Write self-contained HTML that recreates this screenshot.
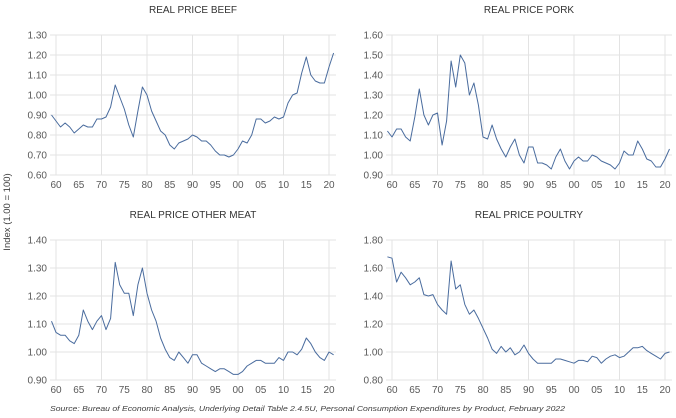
<!DOCTYPE html>
<html><head><meta charset="utf-8"><style>
body{margin:0;background:#fff;width:676px;height:418px;overflow:hidden;font-family:"Liberation Sans",sans-serif}
svg{display:block}
</style></head><body>
<svg id="c" width="676" height="418">
<text transform="translate(10,212) rotate(-90)" text-anchor="middle" font-size="9.5" fill="#404040">Index (1.00 = 100)</text>
<text x="50" y="411" font-size="7.6" font-style="italic" fill="#404040" textLength="515" lengthAdjust="spacingAndGlyphs">Source: Bureau of Economic Analysis, Underlying Detail Table 2.4.5U, Personal Consumption Expenditures by Product, February 2022</text>
</svg>
<script>
const years = [];for(let y=1959;y<=2021;y++)years.push(y);
const xTickLabels = ["60","65","70","75","80","85","90","95","00","05","10","15","20"];
const beef = [0.90,0.87,0.84,0.86,0.84,0.81,0.83,0.85,0.84,0.84,0.88,0.88,0.89,0.94,1.05,0.99,0.93,0.85,0.79,0.92,1.04,1.00,0.92,0.87,0.82,0.80,0.75,0.73,0.76,0.77,0.78,0.80,0.79,0.77,0.77,0.75,0.72,0.70,0.70,0.69,0.70,0.73,0.77,0.76,0.80,0.88,0.88,0.86,0.87,0.89,0.88,0.89,0.96,1.00,1.01,1.11,1.19,1.10,1.07,1.06,1.06,1.14,1.21];
const pork = [1.12,1.09,1.13,1.13,1.09,1.07,1.19,1.33,1.20,1.15,1.20,1.21,1.05,1.17,1.47,1.34,1.50,1.46,1.30,1.36,1.25,1.09,1.08,1.15,1.08,1.03,0.99,1.04,1.08,1.00,0.96,1.04,1.04,0.96,0.96,0.95,0.93,0.99,1.03,0.97,0.93,0.97,0.99,0.97,0.97,1.00,0.99,0.97,0.96,0.95,0.93,0.96,1.02,1.00,1.00,1.07,1.03,0.98,0.97,0.94,0.94,0.98,1.03];
const otherMeat = [1.11,1.07,1.06,1.06,1.04,1.03,1.06,1.15,1.11,1.08,1.11,1.13,1.08,1.12,1.32,1.24,1.21,1.21,1.13,1.24,1.30,1.21,1.15,1.11,1.05,1.01,0.98,0.97,1.00,0.98,0.96,0.99,0.99,0.96,0.95,0.94,0.93,0.94,0.94,0.93,0.92,0.92,0.93,0.95,0.96,0.97,0.97,0.96,0.96,0.96,0.98,0.97,1.00,1.00,0.99,1.01,1.05,1.03,1.00,0.98,0.97,1.00,0.99];
const poultry = [1.68,1.67,1.50,1.57,1.53,1.48,1.50,1.53,1.41,1.40,1.41,1.34,1.30,1.27,1.65,1.45,1.48,1.34,1.27,1.30,1.24,1.17,1.10,1.02,0.99,1.04,1.00,1.03,0.98,1.00,1.05,0.99,0.95,0.92,0.92,0.92,0.92,0.95,0.95,0.94,0.93,0.92,0.94,0.94,0.93,0.97,0.96,0.92,0.95,0.97,0.98,0.96,0.97,1.00,1.03,1.03,1.04,1.01,0.99,0.97,0.95,0.99,1.00];
const beefTicks=[0.60,0.70,0.80,0.90,1.00,1.10,1.20,1.30];
const porkTicks=[0.90,1.00,1.10,1.20,1.30,1.40,1.50,1.60];
const otherTicks=[0.90,1.00,1.10,1.20,1.30,1.40];
const poultryTicks=[0.80,1.00,1.20,1.40,1.60,1.80];
const NS="http://www.w3.org/2000/svg";
const svg=document.getElementById('c');
function mk(t,a,p){const e=document.createElementNS(NS,t);for(const k in a)e.setAttribute(k,a[k]);(p||svg).appendChild(e);return e;}
function panel(key,title,vals,ticks,ox,oy){
  const g=mk('g',{});
  
  
  const x60=ox+56, dx=4.55, top=oy+35, bot=oy+175;
  const lo=ticks[0], hi=ticks[ticks.length-1];
  const xs=y=>x60+(y-1960)*dx;
  const ys=v=>bot-(v-lo)/(hi-lo)*(bot-top);
  const t=mk('text',{x:ox+193,y:oy+13,'text-anchor':'middle','font-size':10,fill:'#333'},g);
  t.textContent=title;
  
  
  ticks.forEach(v=>{
    const l=mk('line',{x1:ox+50,x2:ox+336,y1:ys(v),y2:ys(v),stroke:'#e3e3e3','stroke-width':1},g);
    
    
    const tx=mk('text',{x:ox+47,y:ys(v)+3.5,'text-anchor':'end','font-size':10,fill:'#595959'},g);
    tx.textContent=v.toFixed(2);
    
    
  });
  xTickLabels.forEach((s,i)=>{
    const yr=1960+i*5;
    if(i%2===0){const l=mk('line',{x1:xs(yr),x2:xs(yr),y1:top,y2:bot,stroke:'#e3e3e3','stroke-width':1},g);
      
      }
    const tx=mk('text',{x:xs(yr),y:bot+13,'text-anchor':'middle','font-size':10,fill:'#595959'},g);
    tx.textContent=s;
    
    
  });
  const pts=vals.map((v,i)=>xs(years[i]).toFixed(1)+','+ys(v).toFixed(1)).join(' ');
  const pl=mk('polyline',{points:pts,fill:'none',stroke:'#4a6c9e','stroke-width':1,'stroke-linejoin':'round'},g);
  
  
}
panel('beef','REAL PRICE BEEF',beef,beefTicks,0,0);
panel('pork','REAL PRICE PORK',pork,porkTicks,336,0);
panel('other-meat','REAL PRICE OTHER MEAT',otherMeat,otherTicks,0,205);
panel('poultry','REAL PRICE POULTRY',poultry,poultryTicks,336,205);
</script>
</body></html>
